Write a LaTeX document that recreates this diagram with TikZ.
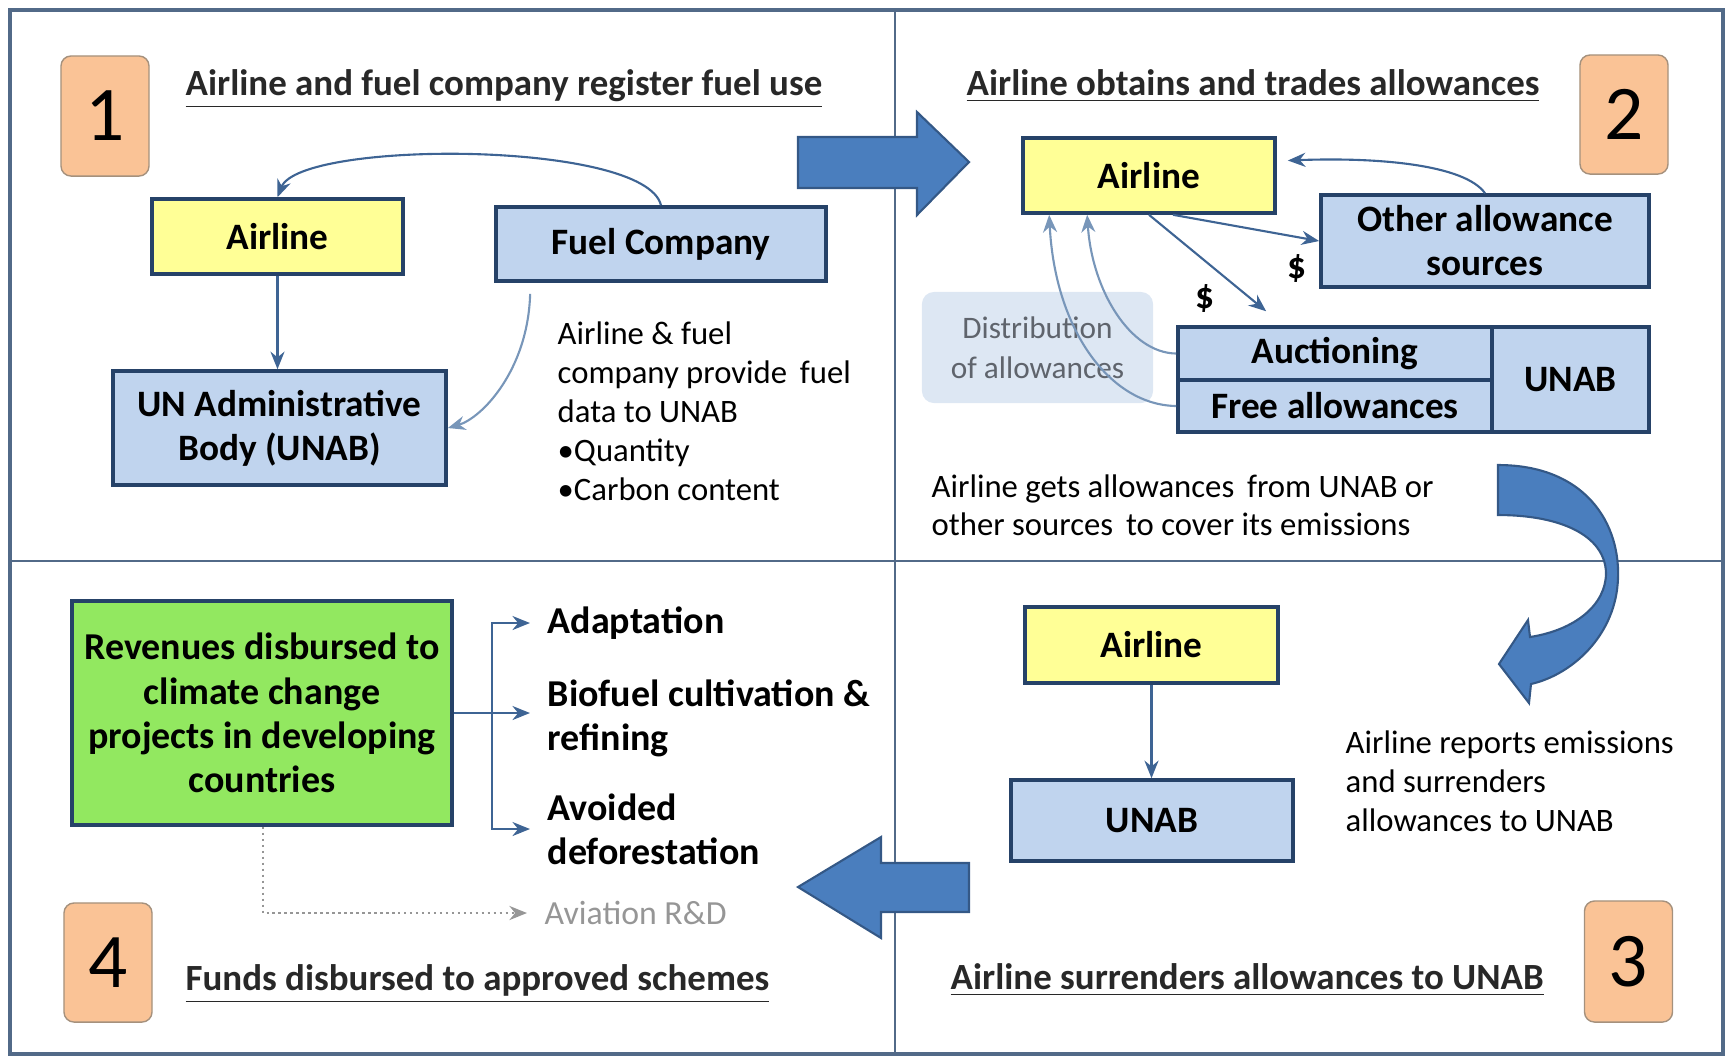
\documentclass[tikz,border=0pt]{standalone}
\usepackage{fontspec}
\setmainfont{Carlito}
\usepackage{xcolor}
\usepackage{tikz}
\usetikzlibrary{arrows.meta,positioning,calc}
\definecolor{framegray}{RGB}{82,106,136}
\definecolor{boxnavy}{RGB}{38,66,104}
\definecolor{airyellow}{RGB}{255,255,150}
\definecolor{unabblue}{RGB}{192,212,238}
\definecolor{numorange}{RGB}{250,195,150}
\definecolor{numedge}{RGB}{165,145,125}
\definecolor{arrowblue}{RGB}{74,126,190}
\definecolor{arrowedge}{RGB}{52,88,134}
\definecolor{connblue}{RGB}{62,100,148}
\definecolor{softblue}{RGB}{120,150,185}
\definecolor{distfill}{RGB}{221,231,243}
\definecolor{distgray}{RGB}{95,100,108}
\definecolor{titlegray}{RGB}{40,40,40}
\definecolor{fundgreen}{RGB}{146,232,96}
\definecolor{rdgray}{RGB}{150,150,150}

\begin{document}
\begin{tikzpicture}[x=0.01cm, y=-0.01cm, >={Stealth[length=5pt,width=4pt]},
  boxtxt/.style={draw=boxnavy, line width=1pt, align=center, inner sep=0pt,
    font=\fontsize{10.6}{12.5}\selectfont\bfseries},
  yellowbox/.style={boxtxt, fill=airyellow},
  bluebox/.style={boxtxt, fill=unabblue},
  numbox/.style={draw=numedge, fill=numorange, rounded corners=0.1cm, inner sep=0pt,
    minimum width=0.88cm, minimum height=1.2cm, font=\fontsize{22}{24}\selectfont},
  steptitle/.style={anchor=west, inner sep=0pt, text=titlegray,
    font=\fontsize{10.5}{12}\selectfont\bfseries},
  note/.style={anchor=west, align=left, inner sep=0pt, font=\fontsize{9.3}{11}\selectfont},
  usetxt/.style={anchor=west, align=left, inner sep=0pt, font=\fontsize{10.8}{12.5}\selectfont\bfseries},
  conn/.style={->, draw=connblue, line width=0.6pt},
  softconn/.style={->, draw=softblue, line width=0.6pt},
  bigarrow/.style={fill=arrowblue, draw=arrowedge, line width=0.6pt},
]
\useasboundingbox (0,0) rectangle (1727,1059);

% ==========================================
% FRAME AND QUADRANT DIVIDERS
% ==========================================
\draw[framegray, line width=0.6pt] (895,10) -- (895,1054);
\draw[framegray, line width=0.8pt] (10,561) -- (1723,561);
\draw[framegray, line width=0.9pt] (10,10) rectangle (1723,1054);

% ==========================================
% STEP 1: register fuel use
% ==========================================
\node[numbox] (num1) at (105,116) {1};
\node[steptitle] (title1) at (185,89) {\underline{Airline and fuel company register fuel use}};

\node[yellowbox, minimum width=2.51cm, minimum height=0.75cm] (air1) at (277.5,236.5) {Airline};
\node[bluebox, minimum width=3.30cm, minimum height=0.74cm] (fuel) at (661,244) {Fuel Company};
\node[bluebox, minimum width=3.33cm, minimum height=1.14cm] (unab1) at (279.5,428) {UN Administrative\\Body (UNAB)};

\node[note, font=\fontsize{9.3}{11.1}\selectfont] (data1) at (557,411)
  {Airline \& fuel\\company provide\, fuel\\data to UNAB\\\textbullet Quantity\\\textbullet Carbon content};

\draw[conn] (fuel.north) .. controls (645,140) and (300,140) .. (air1.north);
\draw[conn] (air1.south) -- (air1.south |- unab1.north);
\draw[softconn] ($(fuel.south west)+(36,11)$) .. controls (528,370) and (482,418) .. (unab1.east);

% Step 1 -> step 2
\draw[bigarrow] (798,137) -- (917,137) -- (917,112) -- (969,162) -- (917,215) -- (917,188) -- (798,188) -- cycle;

% ==========================================
% STEP 2: obtain and trade allowances
% ==========================================
\node[numbox, minimum height=1.19cm] (num2) at (1624,114.5) {2};
\node[steptitle] (title2) at (966,86) {\underline{Airline obtains and trades allowances}};

\node[yellowbox, minimum width=2.52cm, minimum height=0.75cm] (air2) at (1149,175.5) {Airline};
\node[bluebox, minimum width=3.28cm, minimum height=0.92cm] (other) at (1485,241) {Other allowance\\sources};
\node[fill=distfill, rounded corners=0.12cm, minimum width=2.31cm, minimum height=1.11cm,
  align=center, inner sep=0pt, text=distgray, font=\fontsize{8.9}{11.4}\selectfont] (distr) at (1037.5,347.5)
  {Distribution\\of allowances};
\node[bluebox, minimum width=3.14cm, minimum height=0.53cm] (auct) at (1335,353.5) {Auctioning};
\node[bluebox, minimum width=3.14cm, minimum height=0.52cm] (free) at (1335,406) {Free allowances};
\node[bluebox, minimum width=1.57cm, minimum height=1.05cm] (unab2) at (1570.5,379.5) {UNAB};

\node[font=\fontsize{10.6}{12}\selectfont\bfseries, inner sep=0pt] (usd1) at (1205,298) {\$};
\node[font=\fontsize{10.6}{12}\selectfont\bfseries, inner sep=0pt] (usd2) at (1297,268) {\$};

\draw[conn] (other.north) .. controls (1465,165) and (1380,157) .. ($(air2.east)+(11,-15)$);
\draw[conn] ($(air2.south)+(24,0)$) -- (other.west);
\draw[conn] (air2.south) -- ($(auct.north west)+(90,-14)$);
\draw[softconn] (auct.west) .. controls (1130,353) and (1092,290) .. ($(air2.south west)+(66,0)$);
\draw[softconn] (free.west) .. controls (1110,405) and (1055,330) .. ($(air2.south west)+(28,0)$);

\node[note, font=\fontsize{9.3}{10.8}\selectfont] (gets) at (931,505)
  {Airline gets allowances\, from UNAB or\\other sources\, to cover its emissions};

% Step 2 -> step 3 (curved)
\draw[bigarrow] (1498,465) .. controls (1590,465) and (1625,530) .. (1617,590)
  .. controls (1610,640) and (1570,675) .. (1531,684)
  -- (1529,703) -- (1499,664) -- (1528,620) -- (1530,637)
  .. controls (1575,630) and (1606,605) .. (1606,573)
  .. controls (1605,535) and (1560,515) .. (1498,515) -- cycle;

% ==========================================
% STEP 3: surrender allowances
% ==========================================
\node[numbox, minimum height=1.21cm] (num3) at (1628.5,961.5) {3};
\node[steptitle] (title3) at (950,980) {\underline{Airline surrenders allowances to UNAB}};

\node[yellowbox, minimum width=2.53cm, minimum height=0.76cm] (air3) at (1151.5,645) {Airline};
\node[bluebox, minimum width=2.82cm, minimum height=0.81cm] (unab3) at (1152,820.5) {UNAB};
\draw[conn] (air3.south) -- (air3.south |- unab3.north);

\node[note, font=\fontsize{9.3}{11.1}\selectfont] (reports) at (1345,781)
  {Airline reports emissions\\and surrenders\\allowances to UNAB};

% Step 3 -> step 4
\draw[bigarrow] (969,863) -- (881,863) -- (881,837) -- (798,887) -- (881,938) -- (881,912) -- (969,912) -- cycle;

% ==========================================
% STEP 4: funds disbursed
% ==========================================
\node[numbox, minimum height=1.19cm] (num4) at (108,962.5) {4};
\node[steptitle] (title4) at (185,984) {\underline{Funds disbursed to approved schemes}};

\node[boxtxt, fill=fundgreen, minimum width=3.80cm, minimum height=2.24cm,
  font=\fontsize{10.8}{12.6}\selectfont\bfseries] (funds) at (262,713)
  {Revenues disbursed to\\climate change\\projects in developing\\countries};

\node[usetxt] (adapt) at (547,623) {Adaptation};
\node[usetxt] (biofuel) at (547,718) {Biofuel cultivation \&\\refining};
\node[usetxt] (avoid) at (547,829) {Avoided\\deforestation};
\node[note, text=rdgray, font=\fontsize{9.6}{11}\selectfont] (avrd) at (544,913) {Aviation R\&D};

\coordinate (fork) at (492,713);
\draw[conn] (funds.east) -- ($(funds.east -| biofuel.west)+(-17,0)$);
\draw[conn] (fork) |- ($(adapt.west)+(-17,0)$);
\draw[conn] (fork) |- ($(avoid.west)+(-17,0)$);
\draw[->, draw=rdgray, densely dotted, line width=0.7pt] ($(funds.south)+(1,0)$) |- ($(avrd.west)+(-17,0)$);

\end{tikzpicture}
\end{document}
